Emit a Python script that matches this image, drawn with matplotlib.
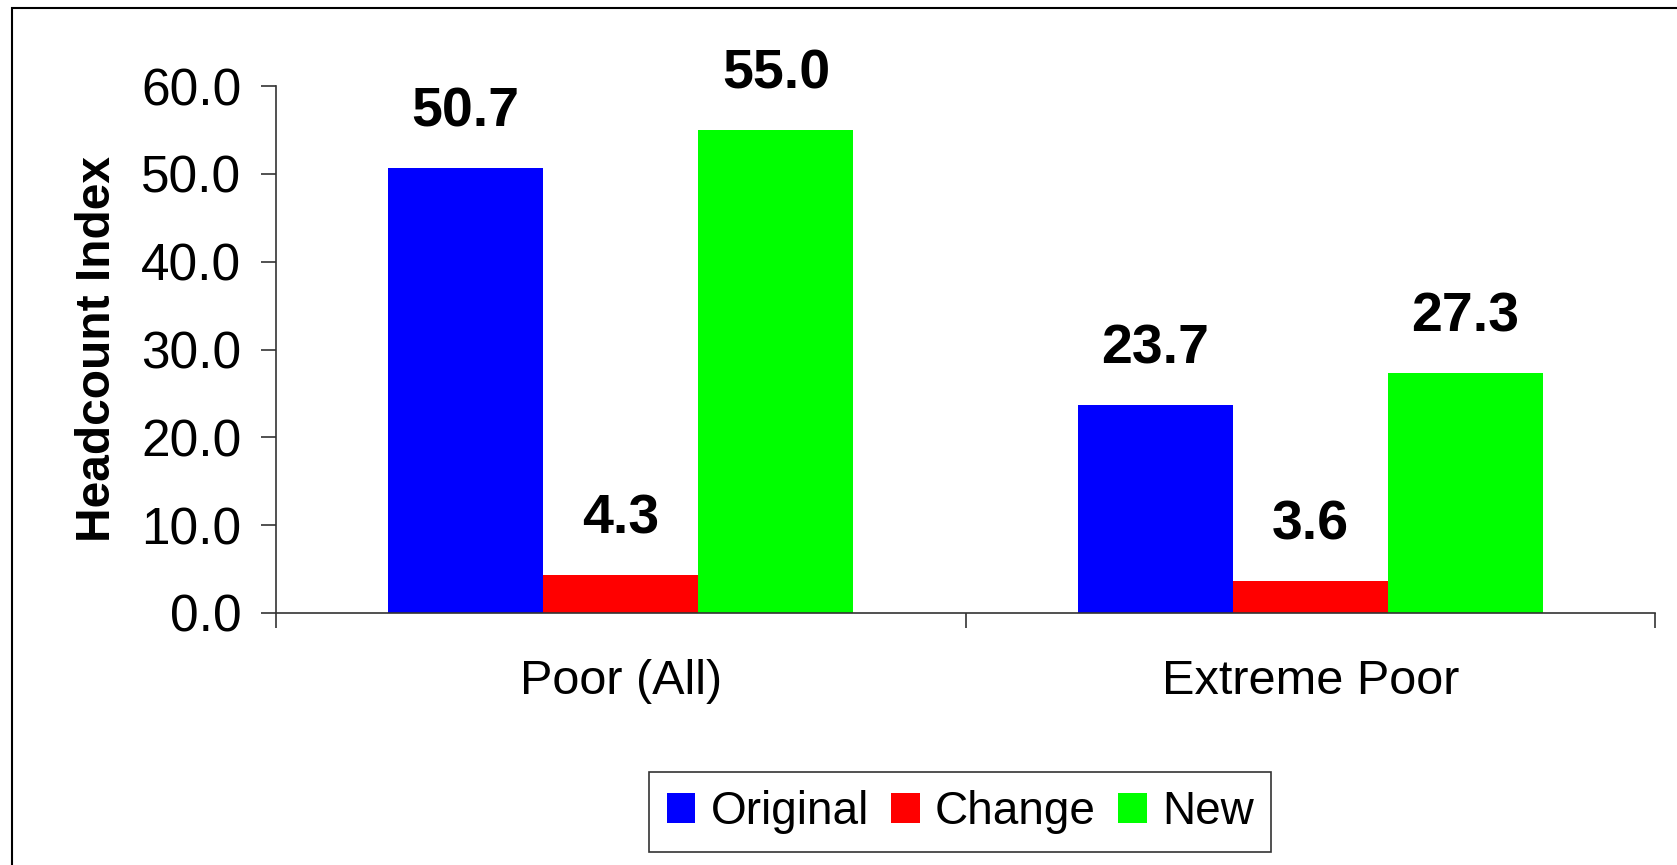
import numpy as np
import matplotlib
matplotlib.use("Agg")
import matplotlib.pyplot as plt
from matplotlib.patches import Rectangle

# Data
categories = ["Poor (All)", "Extreme Poor"]
series_names = ["Original", "Change", "New"]
original = [50.7, 23.7]
change = [4.3, 3.6]
new = [55.0, 27.3]
colors = ["#0000FF", "#FF0000", "#00FF00"]
y_ticks = [0, 10, 20, 30, 40, 50, 60]

plt.rcParams['font.family'] = ['Liberation Sans', 'DejaVu Sans']

fig = plt.figure(figsize=(16.77, 8.65), dpi=100)
ax = fig.add_axes([276 / 1677, 1 - 613 / 865, (1655 - 276) / 1677, (613 - 86) / 865])

x = np.arange(len(categories))
width = 0.225
all_series = [original, change, new]

for i, (vals, name, col) in enumerate(zip(all_series, series_names, colors)):
    bars = ax.bar(x + (i - 1) * width, vals, width, color=col, label=name, zorder=2)
    # value labels above each bar
    for b, v in zip(bars, vals):
        ax.annotate(f"{v:.1f}", (b.get_x() + b.get_width() / 2, v),
                    xytext=(0, 30), textcoords="offset points",
                    ha="center", va="baseline", fontsize=40, fontweight="bold")

# Axes styling
ax.set_xlim(-0.5, len(categories) - 0.5)
ax.set_ylim(0, 60)
ax.set_yticks(y_ticks)
ax.set_yticklabels([f"{t:.1f}" for t in y_ticks], fontsize=37)
ax.set_xticks(x)
ax.set_xticklabels(categories, fontsize=35)
ax.set_xticks(np.arange(-0.5, len(categories), 1.0), minor=True)
ax.tick_params(axis="x", which="major", length=0, pad=33)
ax.tick_params(axis="x", which="minor", length=11, width=1.2, color="#333333", direction="out")
ax.tick_params(axis="y", length=11, width=1.2, color="#333333", direction="out", pad=14)

for side in ["top", "right"]:
    ax.spines[side].set_visible(False)
for side in ["left", "bottom"]:
    ax.spines[side].set_color("#333333")
    ax.spines[side].set_linewidth(1.2)

ax.set_ylabel("Headcount Index", fontsize=34.5, fontweight="bold", labelpad=15)

# Legend at the bottom
leg = fig.legend(loc="center", bbox_to_anchor=(960 / 1677, 1 - 812 / 865), ncol=3,
                 fontsize=33, frameon=True, fancybox=False, shadow=False,
                 handlelength=0.63, handleheight=0.63, handletextpad=0.33,
                 columnspacing=0.48, borderpad=0.39)
leg.get_frame().set_edgecolor("black")
leg.get_frame().set_linewidth(1.2)

# Outer chart border (right and bottom fall outside the picture)
fig.patches.append(Rectangle((12 / 1677, -0.1), 1.2, 1 - 8 / 865 + 0.1,
                             transform=fig.transFigure, fill=False,
                             edgecolor="black", linewidth=1.5))

fig.savefig("out.png", dpi=100)
